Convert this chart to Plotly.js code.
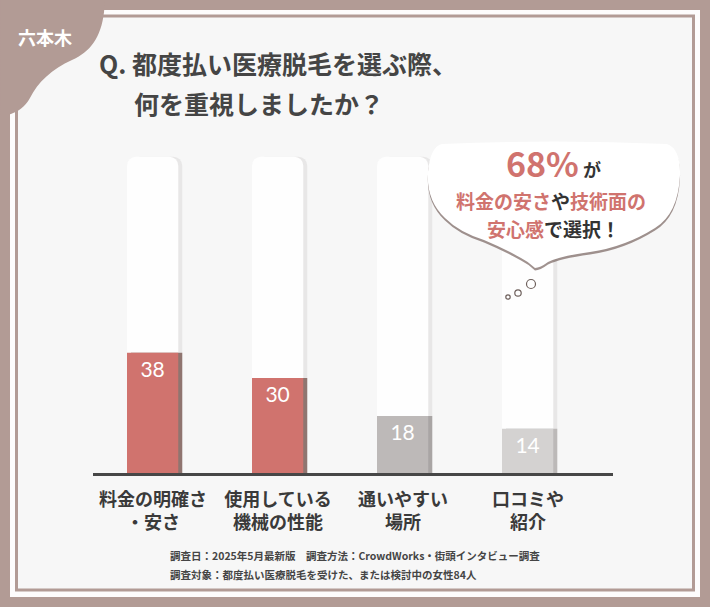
<!DOCTYPE html>
<html>
<head>
<meta charset="utf-8">
<script src="https://cdn.plot.ly/plotly-3.0.1.min.js"></script>
<style>
  html, body { margin:0; padding:0; background:#b29b95; }
  #chart { width:710px; height:607px; }
</style>
</head>
<body>
<div id="chart"></div>
<script>
// ── Data ──────────────────────────────────────────────────────────────────────
const categories = ['料金の明確さ<br>・安さ', '使用している<br>機械の性能', '通いやすい<br>場所', '口コミや<br>紹介'];
const shares     = [38, 30, 18, 14];      // 回答数（人）
const columnMax  = [100, 100, 100, 100];  // 背景の柱
const totalShare = '68%';
const footLines  = [
  '調査日：2025年5月最新版　調査方法：CrowdWorks・街頭インタビュー調査',
  '調査対象：都度払い医療脱毛を受けた、または検討中の女性84人',
];

// ── Layout geometry ───────────────────────────────────────────────────────────
const W = 710, H = 607;
const M = { l:93, r:97, t:125, b:134 };
const PW = W - M.l - M.r, PH = H - M.t - M.b;
const FONT = '"Noto Sans CJK JP", "Noto Sans", sans-serif';
const BROWN = '#b29b95', RED = '#d0736e', INK = '#454545';

// pixel -> paper helpers (for decoration only)
const px = x => (x - M.l) / PW;
const py = y => (H - M.b - y) / PH;
function path(cmds) {
  return cmds.map(c => c[0] + ' ' + c.slice(1).map((v, i) => (i % 2 ? py(v) : px(v)).toFixed(4)).join(',')).join(' ') + ' Z';
}

const xs = categories.map((_, i) => i);
const BW = 0.41;

function barTrace(ys, col, off, extra) {
  return { type:'bar', x:xs, y:ys, width:BW, offset:off,
           marker:{ color:col, cornerradius:9, line:{ width:0 } },
           hoverinfo:'skip', showlegend:false, ...extra };
}

const traces = [
  barTrace(columnMax, '#e8e7e7', -0.176),
  barTrace(columnMax, '#fefefe', -0.208),
  barTrace(shares, ['#8f7570', '#8f7570', '#a9a5a4', '#bcb9b8'], -0.176),
  barTrace(shares, [RED, RED, '#bdb9b8', '#d4d2d1'], -0.208, {
    text: shares.map(String), textposition:'inside', insidetextanchor:'end',
    textangle:0, constraintext:'none',
    textfont:{ family:'Lato, "Noto Sans", sans-serif', size:21, color:'#ffffff' },
  }),
];

// ── Decorations ───────────────────────────────────────────────────────────────
const bubble = [
  ['M', 442, 144],
  ['Q', 555, 139, 667, 144],
  ['Q', 681, 149, 680, 176],
  ['Q', 678, 214, 655, 228],
  ['Q', 625, 247, 590, 252],
  ['Q', 560, 256, 548, 262],
  ['Q', 540, 268, 535, 268],
  ['Q', 529, 262, 521, 258],
  ['Q', 503, 248, 484, 240],
  ['Q', 459, 232, 445, 218],
  ['Q', 426, 200, 428, 172],
  ['Q', 430, 147, 442, 144],
];
const bubbleShadow = bubble.map(c => c.map((v, i) => (i > 0 && i % 2 === 0) ? v + 2.5 : v));

const badge = [
  ['M', 0, 0], ['L', 105, 0], ['L', 104, 12],
  ['C', 101, 38, 90, 52, 72, 60],
  ['C', 52, 69, 38, 82, 30, 98],
  ['C', 25, 107, 18, 112, 8, 115],
  ['L', 0, 115],
];

const shapes = [
  { type:'rect', xref:'paper', yref:'paper', x0:px(10), x1:px(700), y0:py(10), y1:py(597),
    fillcolor:'#fdfcfc', line:{ width:0 }, layer:'below' },
  { type:'rect', xref:'paper', yref:'paper', x0:px(16.5), x1:px(693.5), y0:py(16), y1:py(590),
    fillcolor:'#f7f7f7', line:{ color:BROWN, width:3 }, layer:'below' },
  { type:'path', xref:'paper', yref:'paper', path:path(badge),
    fillcolor:BROWN, line:{ width:0 }, layer:'below' },
  { type:'path', xref:'paper', yref:'paper', path:path(bubbleShadow),
    fillcolor:'rgba(120,100,95,0.7)', line:{ width:0 }, layer:'above' },
  { type:'path', xref:'paper', yref:'paper', path:path(bubble),
    fillcolor:'#ffffff', line:{ width:0 }, layer:'above' },
];
// tail dots
[[531, 284, 4.5], [518, 293, 3.2], [508, 297, 2.2]].forEach(([cx, cy, r]) => {
  shapes.push({ type:'circle', xref:'paper', yref:'paper',
    x0:px(cx - r), x1:px(cx + r), y0:py(cy - r), y1:py(cy + r),
    fillcolor:'#ffffff', line:{ color:'#6e605c', width:1.2 }, layer:'above' });
});

function note(text, x, y, size, opts) {
  return { xref:'paper', yref:'paper', x:px(x), y:py(y), text, showarrow:false,
           xanchor:'center', yanchor:'middle',
           font:{ family:FONT, size, color:INK, weight:700 }, ...opts };
}
const pink = s => `<span style="color:${RED}">${s}</span>`;
const bubbleFont = { family:FONT, size:19, color:'#333333', weight:700 };

const annotations = [
  note('六本木', 45, 37, 18, { font:{ family:FONT, size:18, color:'#ffffff', weight:700 } }),
  note('Q. 都度払い医療脱毛を選ぶ際、', 97, 63, 25, { xanchor:'left' }),
  note('何を重視しましたか？', 132, 103, 25, { xanchor:'left' }),
  note(`<span style="font-size:34px;color:${RED}">${totalShare}</span> が`, 553, 162, 18,
       { font:{ ...bubbleFont, size:18 } }),
  note(pink('料金の安さ') + 'や' + pink('技術面の'), 551, 200, 19, { font:bubbleFont }),
  note(pink('安心感') + 'で選択！', 553, 228, 19, { font:bubbleFont }),
  note(footLines[0], 168, 555, 10.5, { xanchor:'left' }),
  note(footLines[1], 168, 574, 10.5, { xanchor:'left' }),
];

Plotly.newPlot('chart', traces, {
  width:W, height:H,
  margin:M,
  paper_bgcolor:BROWN, plot_bgcolor:'rgba(0,0,0,0)',
  barmode:'overlay', barcornerradius:9,
  showlegend:false,
  xaxis:{ range:[-0.48, 3.68], tickvals:xs, ticktext:categories,
          showline:true, linecolor:'#474747', linewidth:3, showgrid:false, zeroline:false,
          ticks:'outside', ticklen:8, tickcolor:'rgba(0,0,0,0)',
          tickfont:{ family:FONT, size:18, color:'#3a3a3a', weight:700 }, fixedrange:true },
  yaxis:{ range:[0, 110], visible:false, showgrid:false, zeroline:false, fixedrange:true },
  shapes, annotations,
}, { displayModeBar:false, staticPlot:true });
</script>
</body>
</html>
